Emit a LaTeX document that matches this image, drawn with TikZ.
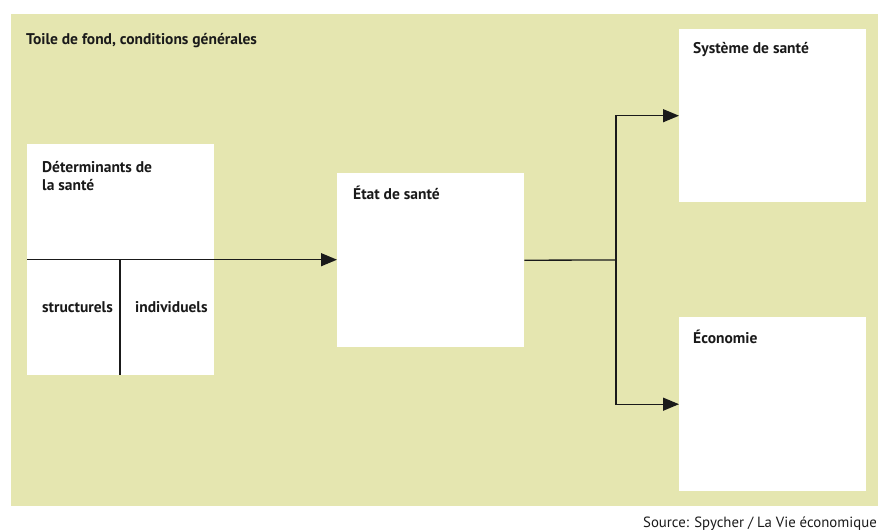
\documentclass[tikz,border=0pt]{standalone}
\usepackage{fontspec}
\setmainfont{PT Sans}
\usetikzlibrary{arrows.meta}
\definecolor{bggreen}{RGB}{229,230,176}
\definecolor{ink}{RGB}{26,26,26}
\begin{document}
\begin{tikzpicture}[x=1pt,y=-1pt,
  box/.style={fill=white,draw=none,inner sep=0pt,anchor=north west},
  lbl/.style={font=\fontsize{15.5}{18}\selectfont\bfseries,text=ink,anchor=base west,inner sep=0pt,align=left},
  conn/.style={draw=ink,line width=1.3pt},
  arr/.style={conn,-{Triangle[length=16pt,width=13pt]}}]
\useasboundingbox (0,0) rectangle (878,530);
\fill[bggreen] (11,14) rectangle (878,506);
\node[lbl] (bgl) at (26,44) {Toile de fond, conditions générales};
% boxes
\node[box,minimum width=187pt,minimum height=231pt] (det) at (27,144) {};
\node[box,minimum width=187pt,minimum height=174pt] (etat) at (337,173) {};
\node[box,minimum width=187pt,minimum height=173pt] (sys) at (679,29) {};
\node[box,minimum width=187pt,minimum height=174pt] (eco) at (679,317) {};
% labels
\node[lbl] (detl) at (42,190) {Déterminants de\\la santé};
\node[lbl] (strl) at (42,312) {structurels};
\node[lbl] (indl) at (135,312) {individuels};
\node[lbl] (etatl) at (353,199) {État de santé};
\node[lbl] (sysl) at (693,53) {Système de santé};
\node[lbl] (ecol) at (693,343) {Économie};
% connectors
\draw[arr] (det.west) -- (det.west -| etat.west);
\coordinate (div) at (120,259.5);
\draw[conn] (div) -- (div |- det.south);
\coordinate (fork) at (616,260);
\draw[conn] (etat.east) -- (fork);
\draw[arr] (fork) |- (sys.west);
\draw[arr] (fork) |- (eco.west);
\node[font=\fontsize{14.8}{17}\selectfont,text=ink,anchor=base east,inner sep=0pt] (src) at (877,527) {Source: Spycher / La Vie économique};
\end{tikzpicture}
\end{document}
